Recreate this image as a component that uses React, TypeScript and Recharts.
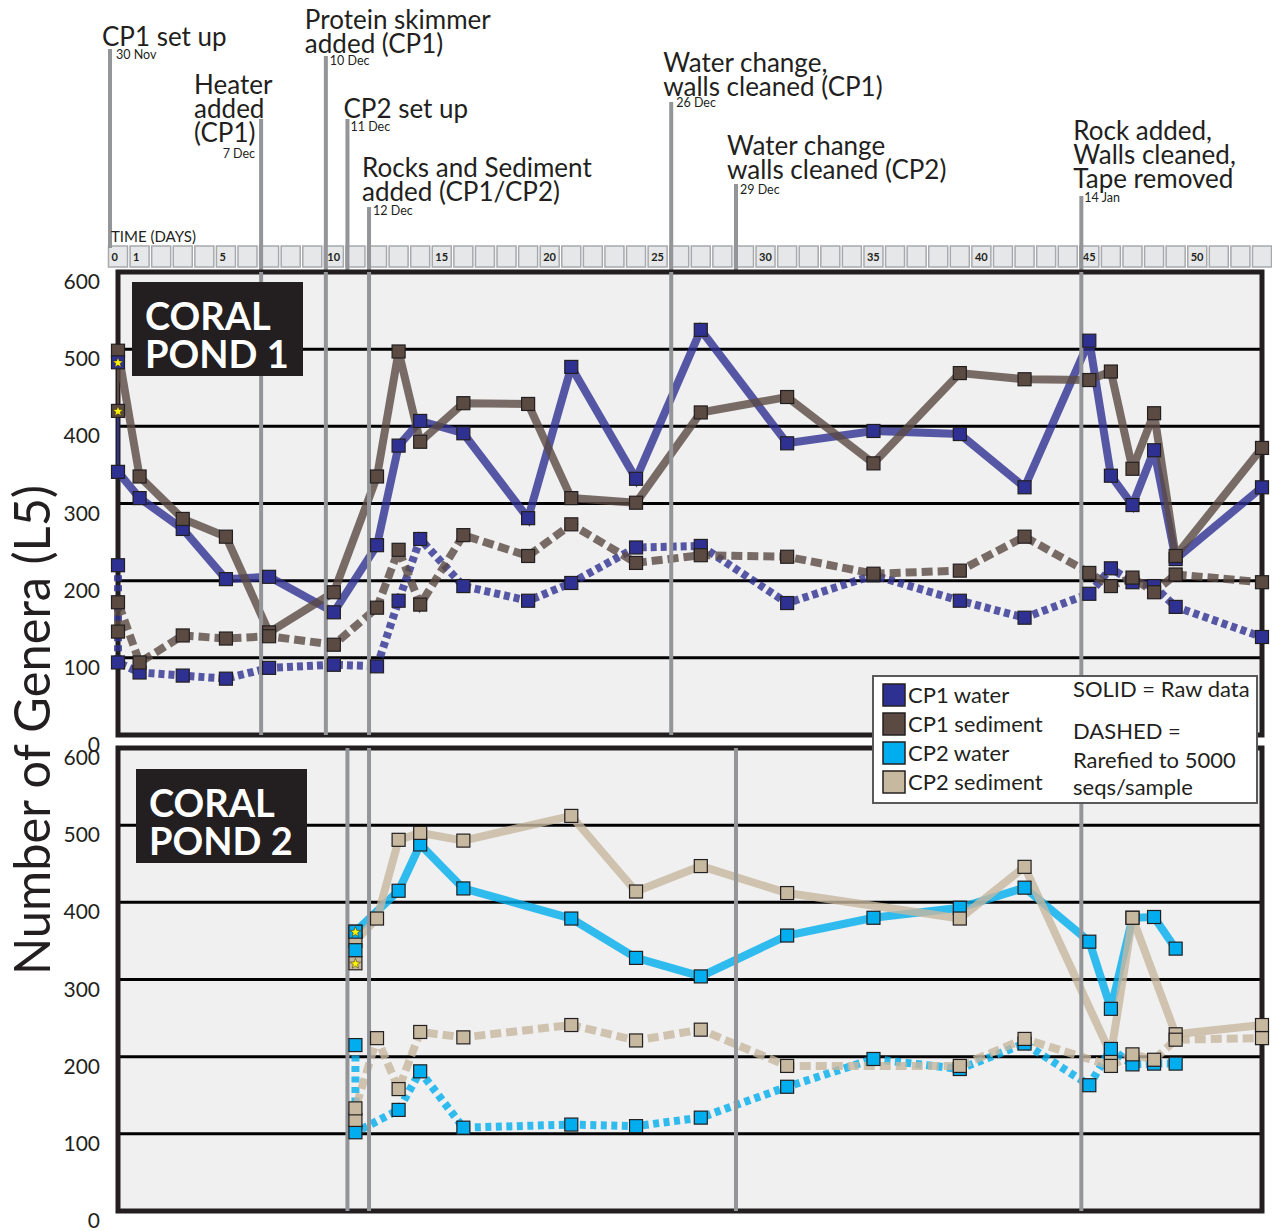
import React from 'react';
import { LineChart, Line, XAxis, YAxis, CartesianGrid, ReferenceLine, ReferenceArea } from 'recharts';

// Days counted from CP1 set up (30 Nov). Rows are [day, number of genera at L5].

// Coral Pond 1
const cp1WaterRaw = [[0, 341], [1, 307], [3, 267], [5, 202], [7, 205], [10, 159], [12, 246], [13, 375], [14, 407], [16, 391], [19, 281], [21, 477], [24, 332], [27, 525], [31, 378], [35, 394], [39, 390], [42, 321], [45, 511], [46, 336], [47, 298], [48, 369], [49, 228], [53, 321]];
const cp1SedimentRaw = [[0, 498], [1, 335], [3, 280], [5, 257], [7, 133], [10, 185], [12, 335], [13, 497], [14, 380], [16, 430], [19, 429], [21, 307], [24, 301], [27, 418], [31, 438], [35, 352], [39, 469], [42, 461], [45, 460], [46, 471], [47, 345], [48, 417], [49, 232], [53, 372]];
const cp1WaterRarefied = [[0, 220], [0, 94], [1, 81], [3, 77], [5, 73], [7, 87], [10, 91], [12, 89], [13, 174], [14, 254], [16, 193], [19, 174], [21, 197], [24, 243], [27, 245], [31, 171], [35, 207], [39, 174], [42, 152], [45, 183], [46, 216], [47, 198], [48, 193], [49, 166], [53, 127]];
const cp1SedimentRarefied = [[0, 134], [0, 172], [1, 94], [3, 129], [5, 125], [7, 128], [10, 117], [12, 165], [13, 240], [14, 169], [16, 259], [19, 232], [21, 273], [24, 223], [27, 233], [31, 231], [35, 209], [39, 213], [42, 257], [45, 210], [46, 193], [47, 204], [48, 185], [49, 208], [53, 198]];
const cp1WaterStar = [[0, 483]];
const cp1SedimentStar = [[0, 420]];

// Coral Pond 2
const cp2WaterRaw = [[11, 362], [13, 415], [14, 475], [16, 418], [21, 379], [24, 328], [27, 304], [31, 357], [35, 380], [39, 393], [42, 419], [45, 349], [46, 262], [47, 380], [48, 381], [49, 340]];
const cp2SedimentRaw = [[11, 350], [12, 379], [13, 481], [14, 490], [16, 480], [21, 512], [24, 414], [27, 447], [31, 412], [39, 379], [42, 446], [46, 203], [47, 380], [49, 229], [53, 241]];
const cp2WaterRarefied = [[11, 215], [11, 102], [13, 131], [14, 181], [16, 108], [21, 112], [24, 110], [27, 121], [31, 161], [35, 197], [39, 184], [42, 217], [45, 163], [46, 210], [47, 190], [48, 191], [49, 191]];
const cp2SedimentRarefied = [[11, 118], [11, 133], [12, 224], [13, 158], [14, 232], [16, 225], [21, 241], [24, 221], [27, 235], [31, 188], [39, 188], [42, 223], [46, 188], [47, 203], [48, 196], [49, 222], [53, 224]];
const cp2WaterStar = [[11, 362]];
const cp2WaterExtra = [[11, 338]];
const cp2SedimentStar = [[11, 321]];

const genusTicks = [0, 100, 200, 300, 400, 500, 600];
const timelineLabels = [0, 1, 5, 10, 15, 20, 25, 30, 35, 40, 45, 50];
const DAY_MAX = 53;

// events on the time line; panels = which pond panels the marker line crosses
const events = [
  { date: '30 Nov', day: 0, text: ['CP1 set up'], top: 49, bottom: 248, textDx: -8, baseline: 46, dateDx: 6, dateY: 59, dateAnchor: 'start', panels: [] as number[] },
  { date: '7 Dec', day: 7, text: ['Heater', 'added', '(CP1)'], top: 119, bottom: 272, textDx: -67, baseline: 94, dateDx: -6, dateY: 158, dateAnchor: 'end', panels: [1] },
  { date: '10 Dec', day: 10, text: ['Protein skimmer', 'added (CP1)'], top: 56, bottom: 272, textDx: -21, baseline: 29, dateDx: 4, dateY: 65, dateAnchor: 'start', panels: [1] },
  { date: '11 Dec', day: 11, text: ['CP2 set up'], top: 119, bottom: 272, textDx: -4, baseline: 118, dateDx: 3, dateY: 131, dateAnchor: 'start', panels: [2] },
  { date: '12 Dec', day: 12, text: ['Rocks and Sediment', 'added (CP1/CP2)'], top: 207, bottom: 272, textDx: -7, baseline: 177, dateDx: 4, dateY: 215, dateAnchor: 'start', panels: [1, 2] },
  { date: '26 Dec', day: 26, text: ['Water change,', 'walls cleaned (CP1)'], top: 102, bottom: 272, textDx: -8, baseline: 72, dateDx: 5, dateY: 107, dateAnchor: 'start', panels: [1] },
  { date: '29 Dec', day: 29, text: ['Water change', 'walls cleaned (CP2)'], top: 184, bottom: 272, textDx: -9, baseline: 155, dateDx: 4, dateY: 194, dateAnchor: 'start', panels: [2] },
  { date: '14 Jan', day: 45, text: ['Rock added,', 'Walls cleaned,', 'Tape removed'], top: 196, bottom: 272, textDx: -8, baseline: 140, dateDx: 3, dateY: 202, dateAnchor: 'start', panels: [1, 2] },
];

const FONT = 'Lato, "Open Sans", sans-serif';
const INK = '#231f20';
const EVENT_GREY = '#939598';
const EVENT_SHIFT = -0.37; // marker lines sit just before the sampling day
const WIDTH = 1272;
const PLOT_LEFT = 118;
const PLOT_RIGHT = 10;
const Y_AXIS_W = 60;

const COLORS = {
  cp1Water: '#2e3192',
  cp1Sediment: '#5a4a42',
  cp2Water: '#00aeef',
  cp2Sediment: '#c7b8a0',
};

const legendItems = [
  { name: 'CP1 water', color: COLORS.cp1Water },
  { name: 'CP1 sediment', color: COLORS.cp1Sediment },
  { name: 'CP2 water', color: COLORS.cp2Water },
  { name: 'CP2 sediment', color: COLORS.cp2Sediment },
];
const legendNotes = [
  { text: 'SOLID = Raw data', y: 21 },
  { text: 'DASHED =', y: 63 },
  { text: 'Rarefied to 5000', y: 92 },
  { text: 'seqs/sample', y: 119 },
];

const toPoints = (rows: number[][]) => rows.map(([day, v]) => ({ day, v }));

const squareDot = (fill: string, size = 13) => (p: any) => {
  if (p.cx == null || p.cy == null) return <g key={`d-${p.index}`} />;
  return (
    <rect key={`d-${p.index}`} x={p.cx - size / 2} y={p.cy - size / 2} width={size} height={size}
      fill={fill} stroke={INK} strokeWidth={1.2} />
  );
};

const starPath = (cx: number, cy: number, R: number, r: number) =>
  Array.from({ length: 10 }, (_, i) => {
    const a = -Math.PI / 2 + (i * Math.PI) / 5;
    const rad = i % 2 === 0 ? R : r;
    return `${cx + rad * Math.cos(a)},${cy + rad * Math.sin(a)}`;
  }).join(' ');

const starDot = (fill: string, size = 13) => (p: any) => {
  if (p.cx == null || p.cy == null) return <g key={`s-${p.index}`} />;
  return (
    <g key={`s-${p.index}`}>
      <rect x={p.cx - size / 2} y={p.cy - size / 2} width={size} height={size} fill={fill} stroke={INK} strokeWidth={1.2} />
      <polygon points={starPath(p.cx, p.cy + 0.5, 5.5, 2.3)} fill="#fff200" stroke={INK} strokeWidth={0.5} />
    </g>
  );
};

const YTick = (p: any) => (
  <text x={p.x} y={p.y + 17} textAnchor="end" fontSize={21} fill={INK} fontFamily={FONT}>
    {p.payload.value}
  </text>
);

type SeriesSet = {
  raw: number[][];
  rarefied: number[][];
  color: string;
  dash: string;
};

type PanelProps = {
  top: number;
  panel: number;
  water: SeriesSet;
  sediment: SeriesSet;
  connectors: { rows: number[][]; color: string }[];
  stars: { rows: number[][]; color: string }[];
  extras: { rows: number[][]; color: string }[];
};

const seriesLine = { activeDot: false, isAnimationActive: false, strokeLinejoin: 'miter', strokeMiterlimit: 2.5 } as const;

function PondPanel({ top, panel, water, sediment, connectors, stars, extras }: PanelProps) {
  const thick = 8;
  return (
    <div style={{ position: 'absolute', left: 0, top }}>
      <LineChart
        width={WIDTH}
        height={493}
        margin={{ top: 10, right: PLOT_RIGHT, bottom: 20, left: PLOT_LEFT - Y_AXIS_W }}
      >
        <CartesianGrid vertical={false} fill="#f0f0f0" fillOpacity={1} stroke="#000" strokeWidth={3} strokeOpacity={1} />
        <XAxis type="number" dataKey="day" domain={[0, DAY_MAX]} hide />
        <YAxis
          type="number"
          domain={[0, 600]}
          ticks={genusTicks}
          interval={0}
          width={Y_AXIS_W}
          axisLine={false}
          tickLine={false}
          tickSize={0}
          tickMargin={18}
          tick={<YTick />}
        />
        <ReferenceArea x1={0} x2={DAY_MAX} y1={0} y2={600} fill="none" stroke={INK} strokeWidth={5} ifOverflow="visible" />

        {connectors.map((c, i) => (
          <Line key={`c${i}`} data={toPoints(c.rows)} dataKey="v" stroke={c.color} strokeWidth={2}
            dot={false} activeDot={false} isAnimationActive={false} />
        ))}

        <Line data={toPoints(water.raw)} dataKey="v" stroke={water.color} strokeOpacity={0.8} strokeWidth={thick}
          dot={squareDot(water.color)} {...seriesLine} />
        <Line data={toPoints(sediment.raw)} dataKey="v" stroke={sediment.color} strokeOpacity={0.8} strokeWidth={thick}
          dot={squareDot(sediment.color)} {...seriesLine} />
        <Line data={toPoints(water.rarefied)} dataKey="v" stroke={water.color} strokeOpacity={0.8} strokeWidth={thick}
          strokeDasharray={water.dash} dot={squareDot(water.color)} {...seriesLine} />
        <Line data={toPoints(sediment.rarefied)} dataKey="v" stroke={sediment.color} strokeOpacity={0.8} strokeWidth={thick}
          strokeDasharray={sediment.dash} dot={squareDot(sediment.color)} {...seriesLine} />

        {extras.map((s, i) => (
          <Line key={`e${i}`} data={toPoints(s.rows)} dataKey="v" stroke="none"
            dot={squareDot(s.color)} activeDot={false} isAnimationActive={false} />
        ))}
        {stars.map((s, i) => (
          <Line key={`s${i}`} data={toPoints(s.rows)} dataKey="v" stroke="none"
            dot={starDot(s.color)} activeDot={false} isAnimationActive={false} />
        ))}

        {events.filter((e) => e.panels.includes(panel)).map((e) => (
          <ReferenceLine key={e.date} x={e.day + EVENT_SHIFT} stroke={EVENT_GREY} strokeWidth={4} ifOverflow="visible" />
        ))}
      </LineChart>
    </div>
  );
}

const HEADER_H = 272;
const timelineDays = Array.from({ length: DAY_MAX + 1 }, (_, i) => i);
// two anchor rows so the header chart has an x range and a y range to work with
const headerFrame = [{ day: 0, y: 0 }, { day: DAY_MAX, y: HEADER_H }];

function EventLabel({ viewBox, ev }: any) {
  const x = viewBox.x;
  return (
    <g fontFamily={FONT} fill={INK}>
      <text x={x + ev.textDx} y={ev.baseline} fontSize={26}>
        {ev.text.map((t: string, i: number) => (
          <tspan key={i} x={x + ev.textDx} y={ev.baseline + i * 24}>{t}</tspan>
        ))}
      </text>
      <text x={x + ev.dateDx} y={ev.dateY} fontSize={12.5} textAnchor={ev.dateAnchor}>{ev.date}</text>
    </g>
  );
}

function TimelineHeader() {
  return (
    <div style={{ position: 'absolute', left: 0, top: 0 }}>
      <LineChart
        width={WIDTH}
        height={HEADER_H}
        margin={{ top: 0, right: PLOT_RIGHT, bottom: 0, left: PLOT_LEFT }}
      >
        <XAxis type="number" dataKey="day" domain={[0, DAY_MAX]} hide />
        <YAxis type="number" domain={[0, HEADER_H]} reversed hide />
        <Line data={headerFrame} dataKey="y" stroke="none" dot={false} activeDot={false} isAnimationActive={false} />
        {timelineDays.map((d) => (
          <ReferenceArea
            key={d}
            x1={d - 0.44}
            x2={d + 0.44}
            y1={246}
            y2={267}
            fill="#e6e7e8"
            fillOpacity={1}
            stroke="#a7a9ac"
            strokeWidth={1.5}
            ifOverflow="visible"
            label={
              timelineLabels.includes(d)
                ? (p: any) => (
                    <text x={p.viewBox.x + 3} y={p.viewBox.y + 14.5} fontSize={11} fontWeight={700}
                      fontFamily={FONT} fill={INK}>
                      {d}
                    </text>
                  )
                : undefined
            }
          />
        ))}
        {events.map((e) => (
          <ReferenceLine
            key={e.date}
            segment={[{ x: e.day + EVENT_SHIFT, y: e.top }, { x: e.day + EVENT_SHIFT, y: e.bottom }]}
            stroke={EVENT_GREY}
            strokeWidth={4}
            ifOverflow="visible"
            label={(p: any) => <EventLabel viewBox={p.viewBox} ev={e} />}
          />
        ))}
      </LineChart>
    </div>
  );
}

function PondBadge({ left, top, lines }: { left: number; top: number; lines: string[] }) {
  return (
    <svg width={171} height={94} style={{ position: 'absolute', left, top }}>
      <rect x={0} y={0} width={171} height={94} fill={INK} />
      {lines.map((t, i) => (
        <text key={t} x={13} y={48 + i * 38} fontSize={38} fontWeight={700} fill="#fff" fontFamily={FONT}>{t}</text>
      ))}
    </svg>
  );
}

function LegendBox() {
  return (
    <svg width={386} height={129} style={{ position: 'absolute', left: 872, top: 675 }}>
      <rect x={1} y={1} width={384} height={127} fill="#fff" stroke="#58595b" strokeWidth={2} />
      {legendItems.map((s, i) => (
        <g key={s.name}>
          <rect x={11} y={9 + i * 29} width={22} height={22} fill={s.color} stroke={INK} strokeWidth={1.5} />
          <text x={36} y={28 + i * 29} fontSize={22} fontFamily={FONT} fill={INK}>{s.name}</text>
        </g>
      ))}
      {legendNotes.map((n) => (
        <text key={n.text} x={201} y={n.y + 1} fontSize={22} fontFamily={FONT} fill={INK}>{n.text}</text>
      ))}
    </svg>
  );
}

export default function App() {
  return (
    <div style={{ position: 'absolute', left: 0, top: 0, width: WIDTH, height: 1231, background: '#fff', overflow: 'hidden' }}>
      <TimelineHeader />
      <PondPanel
        top={262}
        panel={1}
        water={{ raw: cp1WaterRaw, rarefied: cp1WaterRarefied, color: COLORS.cp1Water, dash: '6 4' }}
        sediment={{ raw: cp1SedimentRaw, rarefied: cp1SedimentRarefied, color: COLORS.cp1Sediment, dash: '11 5' }}
        connectors={[
          { rows: [cp1WaterStar[0], cp1WaterRaw[0]], color: COLORS.cp1Water },
          { rows: [cp1SedimentRaw[0], cp1SedimentStar[0]], color: COLORS.cp1Sediment },
        ]}
        stars={[
          { rows: cp1WaterStar, color: COLORS.cp1Water },
          { rows: cp1SedimentStar, color: COLORS.cp1Sediment },
        ]}
        extras={[]}
      />
      <PondPanel
        top={738}
        panel={2}
        water={{ raw: cp2WaterRaw, rarefied: cp2WaterRarefied, color: COLORS.cp2Water, dash: '6 4.5' }}
        sediment={{ raw: cp2SedimentRaw, rarefied: cp2SedimentRarefied, color: COLORS.cp2Sediment, dash: '11 5' }}
        connectors={[]}
        stars={[
          { rows: cp2WaterStar, color: COLORS.cp2Water },
          { rows: cp2SedimentStar, color: COLORS.cp2Sediment },
        ]}
        extras={[{ rows: cp2WaterExtra, color: COLORS.cp2Water }]}
      />
      <svg width={WIDTH} height={1231} style={{ position: 'absolute', left: 0, top: 0, pointerEvents: 'none' }}>
        <text x={111} y={242} fontSize={15} fontFamily={FONT} fill={INK}>TIME (DAYS)</text>
        <text transform="translate(50,730) rotate(-90)" textAnchor="middle" fontSize={50} fontFamily={FONT}
          fill={INK} textLength={490} lengthAdjust="spacingAndGlyphs">
          Number of Genera (L5)
        </text>
      </svg>
      <PondBadge left={132} top={282} lines={['CORAL', 'POND 1']} />
      <PondBadge left={136} top={769} lines={['CORAL', 'POND 2']} />
      <LegendBox />
    </div>
  );
}
